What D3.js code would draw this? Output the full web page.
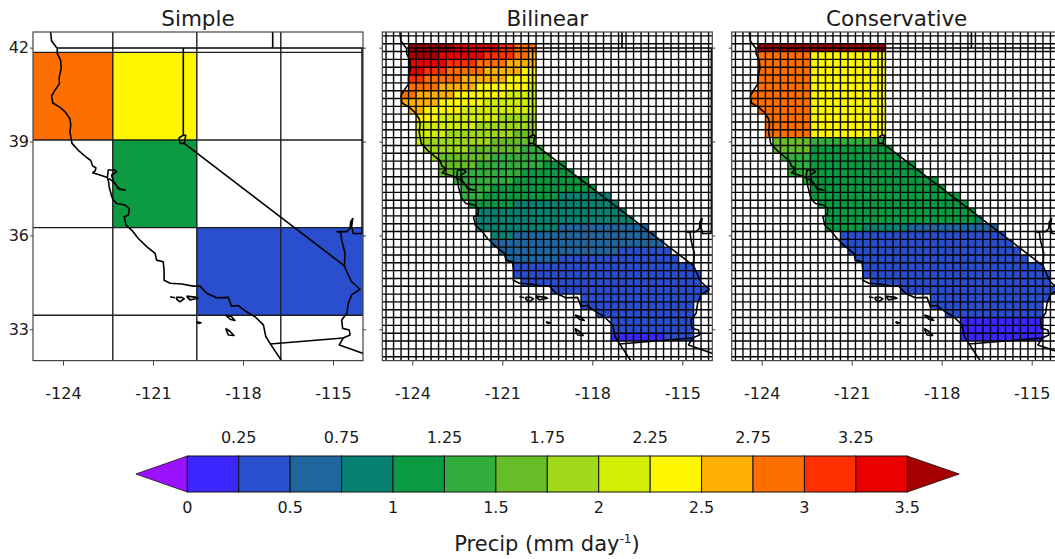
<!DOCTYPE html>
<html><head><meta charset="utf-8">
<script src="https://cdn.jsdelivr.net/npm/d3@7/dist/d3.min.js"></script>
<style>html,body{margin:0;padding:0;background:#fff;overflow:hidden}svg{display:block}text{font-family:"DejaVu Sans",sans-serif;fill:#1a1a1a}</style>
</head><body><svg id="c" width="1055" height="559"></svg>
<script>
const panelTitles = ["Simple","Bilinear","Conservative"];
const lonTicks = [-124,-121,-118,-115];
const latTicks = [42,39,36,33];
const levels = [0,0.25,0.5,0.75,1,1.25,1.5,1.75,2,2.25,2.5,2.75,3,3.25,3.5];
const levelColors = ["#9a12ff","#3c26ff","#2a4fce","#1f66a0","#078272","#0b9a42","#33ae3c","#66bd27","#9fd91a","#d2ee05","#fff700","#ffb000","#ff6f00","#ff3000","#ea0000","#a50000"];
const barLabelsTop = [0.25,0.75,1.25,1.75,2.25,2.75,3.25];
const barLabelsBottom = [0,0.5,1,1.5,2,2.5,3,3.5];

// coarse grid cell edges (deg)
const coarseLons = [-125.14,-122.34,-119.54,-116.74,-113.94];
const coarseLats = [41.85,39.05,36.25,33.45];
// [lon index, lat index, value]
const coarseCells = [[0,0,2.9],[1,0,2.4],[1,1,1.1],[2,2,0.4],[3,2,0.4]];

// fine grid: 0.25 deg columns and rows counted from this corner
const fineLon0 = -124.125, fineLat0 = 42.125, fineStep = 0.25;
const gridLonFirst = -124.875, gridLonCount = 45;
const gridLatFirst = 42.375, gridLatCount = 42;

// each row: [first column, [value, end column], ...]
const bilinearRows = [
[0,[3.6,6],[3.4,12],[3.1,14],[2.9,17]],
[0,[3.6,4],[3.4,10],[3.1,14],[2.9,16],[2.6,17]],
[0,[3.4,5],[3.1,9],[2.9,13],[2.6,17]],
[0,[3.4,2],[3.1,5],[2.9,10],[2.6,15],[2.4,17]],
[0,[3.1,2],[2.9,7],[2.6,13],[2.4,17]],
[0,[2.9,4],[2.6,9],[2.4,16],[2.1,17]],
[-1,[2.9,1],[2.6,6],[2.4,13],[2.1,17]],
[-1,[2.6,4],[2.4,10],[2.1,17]],
[0,[2.6,2],[2.4,7],[2.1,17]],
[1,[2.4,4],[2.1,12],[1.9,17]],
[1,[2.1,9],[1.9,17]],
[1,[2.1,5],[1.9,14],[1.6,17]],
[1,[2.1,2],[1.9,11],[1.6,17]],
[2,[1.9,8],[1.6,15],[1.4,18]],
[3,[1.9,4],[1.6,11],[1.4,19]],
[4,[1.6,9],[1.4,18],[1.1,21]],
[4,[1.6,6],[1.4,15],[1.1,22]],
[6,[1.4,14],[1.1,24]],
[7,[1.4,11],[1.1,25]],
[7,[1.4,10],[1.1,20],[0.9,27]],
[8,[1.1,14],[0.9,28]],
[9,[0.9,29]],
[9,[0.9,30]],
[9,[0.9,20],[0.6,32]],
[11,[0.9,14],[0.6,33]],
[11,[0.6,34]],
[12,[0.6,28],[0.4,35]],
[13,[0.6,20],[0.4,36]],
[14,[0.4,38]],
[14,[0.4,39]],
[15,[0.4,39]],
[19,[0.4,40]],
[23,[0.4,39]],
[23,[0.4,38]],
[25,[0.4,38]],
[27,[0.4,38]],
[27,[0.4,38]],
[27,[0.1,34],[0.4,38]]
];
const conservativeRows = [
[0,[3.6,17]],
[0,[2.9,7],[2.4,17]],
[0,[2.9,7],[2.4,17]],
[0,[2.9,7],[2.4,17]],
[0,[2.9,7],[2.4,17]],
[0,[2.9,7],[2.4,17]],
[-1,[2.9,7],[2.4,17]],
[-1,[2.9,7],[2.4,17]],
[0,[2.9,7],[2.4,17]],
[1,[2.9,7],[2.4,17]],
[1,[2.9,7],[2.4,17]],
[1,[2.9,7],[2.4,17]],
[2,[1.6,7],[1.4,17]],
[2,[1.6,7],[1.1,18]],
[3,[1.4,7],[1.1,19]],
[4,[1.4,7],[1.1,21]],
[4,[1.4,7],[1.1,22]],
[6,[1.4,7],[1.1,24]],
[7,[1.1,25]],
[7,[1.1,27]],
[8,[1.1,28]],
[9,[1.1,29]],
[9,[1.1,29],[0.9,30]],
[9,[1.1,14],[0.9,20],[0.6,32]],
[11,[0.4,33]],
[11,[0.4,34]],
[12,[0.4,35]],
[13,[0.4,36]],
[14,[0.4,38]],
[14,[0.4,39]],
[15,[0.4,39]],
[19,[0.4,40]],
[23,[0.4,39]],
[23,[0.4,38]],
[25,[0.4,38]],
[27,[0.1,38]],
[27,[0.1,38]],
[27,[0.1,38]]
];

// map outlines as [lon, lat]
const coastline = [[-124.41,42.6],[-124.41,42.48],[-124.38,42.21],[-124.19,41.97],[-124.19,41.81],[-124.08,41.60],[-124.06,41.33],[-124.13,41.04],[-124.12,40.85],[-124.27,40.64],[-124.38,40.45],[-124.34,40.23],[-124.10,40.09],[-123.93,39.95],[-123.77,39.73],[-123.74,39.52],[-123.77,39.31],[-123.70,38.94],[-123.49,38.72],[-123.21,38.49],[-123.08,38.40],[-123.01,38.22],[-122.90,38.16],[-122.93,38.06],[-123.01,38.00],[-122.77,37.93],[-122.52,37.85],[-122.48,37.71],[-122.46,37.55],[-122.37,37.23],[-122.32,37.13],[-122.21,37.02],[-121.93,36.97],[-121.79,36.86],[-121.82,36.65],[-121.96,36.60],[-121.90,36.33],[-121.71,36.17],[-121.49,35.90],[-121.21,35.64],[-120.93,35.43],[-120.88,35.21],[-120.66,35.16],[-120.63,34.89],[-120.63,34.57],[-120.43,34.47],[-120.04,34.45],[-119.66,34.38],[-119.43,34.38],[-119.21,34.15],[-118.88,34.01],[-118.49,34.02],[-118.38,33.74],[-118.16,33.76],[-117.88,33.56],[-117.60,33.40],[-117.32,33.14],[-117.24,32.77],[-117.10,32.55],[-116.71,31.99]];
const sfBay = [[-122.52,37.85],[-122.49,38.09],[-122.27,38.09],[-122.21,38.03],[-122.38,37.93],[-122.32,37.71],[-122.10,37.47],[-121.93,37.45],[-122.16,37.50],[-122.27,37.68],[-122.48,37.82]];
const borderNorth = [[-124.19,41.99],[-113.8,41.99]];
const borderIdaho = [[-117.01,42.6],[-117.01,41.99]];
const borderUtah = [[-114.03,41.99],[-114.03,36.2],[-114.04,36.06],[-114.32,36.06],[-114.38,36.28],[-114.34,36.54],[-114.41,36.44],[-114.43,36.22],[-114.54,36.12],[-114.86,36.12],[-114.74,36.09],[-114.71,35.85],[-114.60,35.43],[-114.62,35.03]];
const borderSierra = [[-119.99,41.99],[-119.99,39.20],[-120.13,39.12],[-120.10,38.94],[-119.96,38.94],[-119.91,39.20],[-119.99,39.20]];
const borderDiagonal = [[-119.96,38.94],[-114.62,35.03]];
const colorado = [[-114.62,35.03],[-114.54,34.84],[-114.38,34.52],[-114.10,34.28],[-114.38,34.10],[-114.49,33.83],[-114.54,33.51],[-114.71,33.30],[-114.68,33.03],[-114.46,32.98],[-114.43,32.82],[-114.66,32.72],[-114.79,32.50],[-113.9,32.2]];
const borderMexico = [[-117.10,32.53],[-114.66,32.72]];
const islandMiguel = [[-120.43,34.04],[-120.27,34.01]];
const islandRosa = [[-120.23,34.02],[-120.04,34.02],[-119.96,33.97],[-120.10,33.88],[-120.21,33.96],[-120.23,34.02]];
const islandCruz = [[-119.88,34.06],[-119.54,34.02],[-119.49,33.99],[-119.77,33.94],[-119.88,34.06]];
const islandBarbara = [[-119.54,33.24],[-119.40,33.21],[-119.48,33.19],[-119.54,33.24]];
const islandCatalina = [[-118.58,33.46],[-118.38,33.40],[-118.27,33.28],[-118.43,33.32],[-118.58,33.46]];
const islandClemente = [[-118.58,33.03],[-118.43,32.93],[-118.30,32.80],[-118.49,32.82],[-118.58,33.03]];
const outlines = [coastline,sfBay,borderNorth,borderIdaho,borderUtah,borderSierra,borderDiagonal,colorado,borderMexico,islandMiguel,islandRosa,islandCruz,islandBarbara,islandCatalina,islandClemente];

const svg = d3.select("#c");
svg.append("rect").attr("width",1055).attr("height",559).attr("fill","#fff");
const color = d3.scaleThreshold().domain(levels).range(levelColors);
const panelLefts = [33,382.3,731.7], panelW = 330, panelTop = 32, panelBottom = 360.6;
const defs = svg.append("defs");

panelTitles.forEach((title,i)=>{
  const L = panelLefts[i];
  const x = d3.scaleLinear().domain([-125,-114]).range([L,L+panelW]);
  const y = d3.scaleLinear().domain([32,42.5]).range([panelBottom,panelTop]);
  defs.append("clipPath").attr("id","p"+i).append("rect").attr("x",L).attr("y",panelTop).attr("width",panelW).attr("height",panelBottom-panelTop);
  const g = svg.append("g");
  const map = g.append("g").attr("clip-path",`url(#p${i})`);
  const cellFill = (x0,x1,yTop,yBot,v)=>map.append("rect").attr("x",x(x0)).attr("y",y(yTop)).attr("width",x(x1)-x(x0)).attr("height",y(yBot)-y(yTop)).attr("fill",color(v));
  if(i===0){
    coarseCells.forEach(([a,b,v])=>cellFill(coarseLons[a],coarseLons[a+1],coarseLats[b],coarseLats[b+1],v));
    const cl = map.append("g").attr("stroke","#1c1c1c").attr("stroke-width",1.4);
    coarseLons.slice(1,4).forEach(v=>cl.append("line").attr("x1",x(v)).attr("x2",x(v)).attr("y1",panelTop).attr("y2",panelBottom));
    coarseLats.forEach(v=>cl.append("line").attr("y1",y(v)).attr("y2",y(v)).attr("x1",L).attr("x2",L+panelW));
  } else {
    const rows = i===1?bilinearRows:conservativeRows;
    rows.forEach((row,r)=>{
      let c = row[0];
      row.slice(1).forEach(([v,end])=>{
        for(;c<end;c++){
          cellFill(fineLon0+c*fineStep,fineLon0+(c+1)*fineStep,fineLat0-r*fineStep,fineLat0-(r+1)*fineStep,v);
        }
      });
    });
    const fl = map.append("g").attr("stroke","#000").attr("stroke-width",1.4);
    d3.range(gridLonCount).forEach(k=>{const v=gridLonFirst+k*fineStep;fl.append("line").attr("x1",x(v)).attr("x2",x(v)).attr("y1",panelTop).attr("y2",panelBottom);});
    d3.range(gridLatCount).forEach(k=>{const v=gridLatFirst-k*fineStep;fl.append("line").attr("y1",y(v)).attr("y2",y(v)).attr("x1",L).attr("x2",L+panelW);});
  }
  const line = d3.line().x(d=>x(d[0])).y(d=>y(d[1]));
  map.selectAll("path.o").data(outlines).join("path").attr("class","o").attr("d",line).attr("fill","none").attr("stroke","#000").attr("stroke-width",1.6).attr("stroke-linejoin","round");
  g.append("rect").attr("x",L).attr("y",panelTop).attr("width",panelW).attr("height",panelBottom-panelTop).attr("fill","none").attr("stroke","#444").attr("stroke-width",1.2);

  const ax = g.append("g").attr("transform",`translate(0,${panelBottom})`).call(d3.axisBottom(x).tickValues(lonTicks).tickSize(5).tickPadding(22).tickFormat(d3.format("d")));
  const ayL = g.append("g").attr("transform",`translate(${L},0)`).call(d3.axisLeft(y).tickValues(latTicks).tickSize(3).tickPadding(1).tickFormat(i===0?d3.format("d"):""));
  const ayR = g.append("g").attr("transform",`translate(${L+panelW},0)`).call(d3.axisRight(y).tickValues(latTicks).tickSize(3).tickFormat(""));
  [ax,ayL,ayR].forEach(a=>{a.select(".domain").remove();a.selectAll("line").attr("stroke","#444");a.selectAll("text").style("font-family","'DejaVu Sans', sans-serif").style("font-size","16px").attr("fill","#1a1a1a");});
  ax.selectAll("text").text(d=>String(d).replace("−","-"));
  g.append("text").attr("x",L+panelW/2).attr("y",26).attr("text-anchor","middle").style("font-size","21.5px").text(title);
});

// colour bar
const bx = d3.scaleLinear().domain([0,3.5]).range([187.3,907.3]);
const barTop = 456, barBot = 492, barMid = 474, tip = 51.4;
const bar = svg.append("g");
const edges = "#111";
bar.append("path").attr("d",d3.line()([[bx(0),barTop],[bx(0)-tip,barMid],[bx(0),barBot]])+"Z").attr("fill",levelColors[0]).attr("stroke",edges).attr("stroke-width",0.8);
bar.append("path").attr("d",d3.line()([[bx(3.5),barTop],[bx(3.5)+tip+0.6,barMid],[bx(3.5),barBot]])+"Z").attr("fill",levelColors[15]).attr("stroke",edges).attr("stroke-width",0.8);
d3.pairs(levels).forEach(([a,b],k)=>{
  bar.append("rect").attr("x",bx(a)).attr("y",barTop).attr("width",bx(b)-bx(a)).attr("height",barBot-barTop).attr("fill",levelColors[k+1]).attr("stroke",edges).attr("stroke-width",1);
});
bar.selectAll("text.t").data(barLabelsTop).join("text").attr("class","t").attr("x",d=>bx(d)).attr("y",443).attr("text-anchor","middle").style("font-size","16px").text(d=>d);
bar.selectAll("text.b").data(barLabelsBottom).join("text").attr("class","b").attr("x",d=>bx(d)).attr("y",513).attr("text-anchor","middle").style("font-size","16px").text(d=>d);
const at = svg.append("text").attr("x",547).attr("y",551).attr("text-anchor","middle").style("font-size","21px");
at.append("tspan").text("Precip (mm day");
at.append("tspan").attr("dy",-8).style("font-size","12px").text("-1");
at.append("tspan").attr("dy",8).text(")");
</script></body></html>
